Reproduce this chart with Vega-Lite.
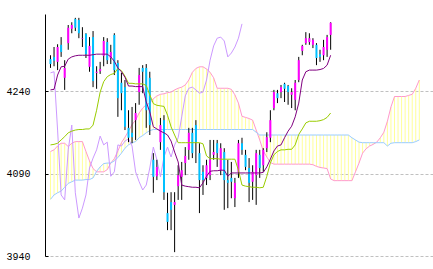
{
 "$schema": "https://vega.github.io/schema/vega-lite/v6.json",
 "width": 388, "height": 242,
 "autosize": {"type": "none"},
 "padding": {"left": 45, "top": 14, "right": 0, "bottom": 13},
 "background": "white",
 "config": {"view": {"stroke": null}},
 "data": {"values": [
  {"i":0,"o":4298,"h":4305,"l":4282,"c":4289,"tk":4242,"kj":4142,"ck":4273,"sa":4130,"sb":4043},
  {"i":1,"o":4302,"h":4320,"l":4285,"c":4295,"tk":4243,"kj":4143,"ck":4275,"sa":4133,"sb":4051},
  {"i":2,"o":4293,"h":4325,"l":4278,"c":4320,"tk":4269,"kj":4145,"ck":4169,"sa":4140,"sb":4055},
  {"i":3,"o":4324,"h":4338,"l":4302,"c":4311,"tk":4284,"kj":4151,"ck":4051,"sa":4145,"sb":4058},
  {"i":4,"o":4264,"h":4296,"l":4242,"c":4282,"tk":4285,"kj":4157,"ck":4042,"sa":4145,"sb":4065},
  {"i":5,"o":4327,"h":4360,"l":4315,"c":4355,"tk":4298,"kj":4164,"ck":4133,"sa":4139,"sb":4072},
  {"i":6,"o":4353,"h":4365,"l":4345,"c":4360,"tk":4302,"kj":4167,"ck":4178,"sa":4145,"sb":4075},
  {"i":7,"o":4371,"h":4373,"l":4349,"c":4355,"tk":4304,"kj":4169,"ck":4055,"sa":4148,"sb":4078},
  {"i":8,"o":4369,"h":4373,"l":4336,"c":4345,"tk":4305,"kj":4170,"ck":4009,"sa":4148,"sb":4078},
  {"i":9,"o":4335,"h":4356,"l":4320,"c":4336,"tk":4305,"kj":4170,"ck":4027,"sa":4148,"sb":4078},
  {"i":10,"o":4344,"h":4345,"l":4300,"c":4307,"tk":4305,"kj":4171,"ck":4051,"sa":4130,"sb":4079},
  {"i":11,"o":4284,"h":4338,"l":4275,"c":4322,"tk":4305,"kj":4171,"ck":4100,"sa":4113,"sb":4079},
  {"i":12,"o":4338,"h":4349,"l":4247,"c":4258,"tk":4306,"kj":4178,"ck":4118,"sa":4099,"sb":4082},
  {"i":13,"o":4273,"h":4285,"l":4244,"c":4275,"tk":4307,"kj":4205,"ck":4133,"sa":4093,"sb":4094},
  {"i":14,"o":4276,"h":4293,"l":4271,"c":4280,"tk":4307,"kj":4238,"ck":4158,"sa":4093,"sb":4102},
  {"i":15,"o":4304,"h":4338,"l":4285,"c":4331,"tk":4307,"kj":4257,"ck":4142,"sa":4093,"sb":4108},
  {"i":16,"o":4329,"h":4336,"l":4289,"c":4296,"tk":4307,"kj":4266,"ck":4147,"sa":4097,"sb":4109},
  {"i":17,"o":4300,"h":4324,"l":4289,"c":4311,"tk":4302,"kj":4270,"ck":4085,"sa":4109,"sb":4109},
  {"i":18,"o":4342,"h":4345,"l":4269,"c":4278,"tk":4294,"kj":4272,"ck":4093,"sa":4117,"sb":4113},
  {"i":19,"o":4291,"h":4296,"l":4193,"c":4227,"tk":4282,"kj":4281,"ck":4142,"sa":4131,"sb":4119},
  {"i":20,"o":4255,"h":4273,"l":4205,"c":4236,"tk":4275,"kj":4277,"ck":4140,"sa":4146,"sb":4127},
  {"i":21,"o":4247,"h":4260,"l":4169,"c":4175,"tk":4265,"kj":4267,"ck":4149,"sa":4156,"sb":4136},
  {"i":22,"o":4173,"h":4205,"l":4147,"c":4155,"tk":4249,"kj":4254,"ck":4153,"sa":4167,"sb":4142},
  {"i":23,"o":4164,"h":4211,"l":4145,"c":4156,"tk":4249,"kj":4254,"ck":4140,"sa":4179,"sb":4146},
  {"i":24,"o":4187,"h":4218,"l":4151,"c":4200,"tk":4248,"kj":4253,"ck":4093,"sa":4187,"sb":4148},
  {"i":25,"o":4238,"h":4282,"l":4215,"c":4269,"tk":4248,"kj":4253,"ck":4075,"sa":4200,"sb":4155},
  {"i":26,"o":4282,"h":4287,"l":4236,"c":4275,"tk":4248,"kj":4253,"ck":4060,"sa":4209,"sb":4159},
  {"i":27,"o":4282,"h":4289,"l":4173,"c":4205,"tk":4220,"kj":4250,"ck":4069,"sa":4215,"sb":4164},
  {"i":28,"o":4264,"h":4275,"l":4160,"c":4178,"tk":4202,"kj":4233,"ck":4100,"sa":4218,"sb":4168},
  {"i":29,"o":4115,"h":4127,"l":4055,"c":4084,"tk":4175,"kj":4217,"ck":4138,"sa":4226,"sb":4170},
  {"i":30,"o":4085,"h":4115,"l":4078,"c":4102,"tk":4171,"kj":4214,"ck":4115,"sa":4231,"sb":4170},
  {"i":31,"o":4147,"h":4191,"l":4133,"c":4178,"tk":4167,"kj":4213,"ck":4084,"sa":4234,"sb":4170},
  {"i":32,"o":4187,"h":4196,"l":4042,"c":4056,"tk":4164,"kj":4212,"ck":4120,"sa":4235,"sb":4170},
  {"i":33,"o":4018,"h":4055,"l":3987,"c":4002,"tk":4160,"kj":4196,"ck":4138,"sa":4237,"sb":4170},
  {"i":34,"o":4038,"h":4056,"l":3987,"c":4024,"tk":4149,"kj":4175,"ck":4120,"sa":4238,"sb":4170},
  {"i":35,"o":4033,"h":4056,"l":3947,"c":4038,"tk":4129,"kj":4160,"ck":4142,"sa":4242,"sb":4170},
  {"i":36,"o":4067,"h":4105,"l":4042,"c":4087,"tk":4111,"kj":4146,"ck":4155,"sa":4245,"sb":4170},
  {"i":37,"o":4084,"h":4111,"l":4042,"c":4096,"tk":4069,"kj":4146,"ck":4193,"sa":4247,"sb":4170},
  {"i":38,"o":4109,"h":4138,"l":4087,"c":4122,"tk":4067,"kj":4146,"ck":4231,"sa":4251,"sb":4170},
  {"i":39,"o":4133,"h":4173,"l":4115,"c":4164,"tk":4066,"kj":4146,"ck":4245,"sa":4260,"sb":4170},
  {"i":40,"o":4164,"h":4173,"l":4118,"c":4127,"tk":4065,"kj":4146,"ck":4247,"sa":4274,"sb":4170},
  {"i":41,"o":4178,"h":4187,"l":4109,"c":4147,"tk":4065,"kj":4146,"ck":4242,"sa":4281,"sb":4170},
  {"i":42,"o":4127,"h":4145,"l":4018,"c":4078,"tk":4064,"kj":4146,"ck":4236,"sa":4284,"sb":4170},
  {"i":43,"o":4093,"h":4105,"l":4051,"c":4078,"tk":4073,"kj":4144,"ck":4238,"sa":4284,"sb":4170},
  {"i":44,"o":4082,"h":4115,"l":4069,"c":4105,"tk":4085,"kj":4122,"ck":4260,"sa":4280,"sb":4170},
  {"i":45,"o":4087,"h":4151,"l":4078,"c":4115,"tk":4094,"kj":4117,"ck":4296,"sa":4274,"sb":4170},
  {"i":46,"o":4124,"h":4151,"l":4115,"c":4129,"tk":4095,"kj":4117,"ck":4322,"sa":4264,"sb":4170},
  {"i":47,"o":4145,"h":4151,"l":4102,"c":4127,"tk":4095,"kj":4117,"ck":4336,"sa":4245,"sb":4170},
  {"i":48,"o":4096,"h":4145,"l":4087,"c":4136,"tk":4096,"kj":4116,"ck":4338,"sa":4245,"sb":4170},
  {"i":49,"o":4129,"h":4136,"l":4024,"c":4078,"tk":4096,"kj":4116,"ck":4331,"sa":4245,"sb":4170},
  {"i":50,"o":4078,"h":4115,"l":4027,"c":4073,"tk":4085,"kj":4116,"ck":4302,"sa":4245,"sb":4170},
  {"i":51,"o":4082,"h":4111,"l":4045,"c":4075,"tk":4091,"kj":4116,"ck":4309,"sa":4243,"sb":4170},
  {"i":52,"o":4045,"h":4082,"l":4029,"c":4073,"tk":4091,"kj":4116,"ck":4320,"sa":4233,"sb":4170},
  {"i":53,"o":4093,"h":4151,"l":4082,"c":4145,"tk":4091,"kj":4096,"ck":4336,"sa":4218,"sb":4170},
  {"i":54,"o":4145,"h":4155,"l":4124,"c":4133,"tk":4091,"kj":4069,"ck":4362,"sa":4194,"sb":4170},
  {"i":55,"o":4124,"h":4133,"l":4096,"c":4102,"tk":4091,"kj":4067,"sa":4192,"sb":4170},
  {"i":56,"o":4100,"h":4118,"l":4038,"c":4073,"tk":4091,"kj":4066,"sa":4190,"sb":4170},
  {"i":57,"o":4075,"h":4105,"l":4042,"c":4093,"tk":4091,"kj":4065,"sa":4187,"sb":4170},
  {"i":58,"o":4087,"h":4133,"l":4033,"c":4127,"tk":4091,"kj":4065,"sa":4169,"sb":4165},
  {"i":59,"o":4124,"h":4133,"l":4082,"c":4100,"tk":4091,"kj":4064,"sa":4151,"sb":4160},
  {"i":60,"o":4105,"h":4136,"l":4093,"c":4133,"tk":4092,"kj":4065,"sa":4131,"sb":4160},
  {"i":61,"o":4136,"h":4165,"l":4129,"c":4156,"tk":4102,"kj":4085,"sa":4120,"sb":4160},
  {"i":62,"o":4155,"h":4205,"l":4147,"c":4187,"tk":4116,"kj":4109,"sa":4110,"sb":4160},
  {"i":63,"o":4209,"h":4242,"l":4205,"c":4238,"tk":4131,"kj":4124,"sa":4107,"sb":4160},
  {"i":64,"o":4236,"h":4242,"l":4218,"c":4227,"tk":4140,"kj":4130,"sa":4107,"sb":4160},
  {"i":65,"o":4238,"h":4251,"l":4227,"c":4247,"tk":4142,"kj":4133,"sa":4107,"sb":4160},
  {"i":66,"o":4253,"h":4255,"l":4220,"c":4244,"tk":4155,"kj":4133,"sa":4107,"sb":4160},
  {"i":67,"o":4249,"h":4251,"l":4215,"c":4238,"tk":4167,"kj":4134,"sa":4107,"sb":4160},
  {"i":68,"o":4233,"h":4245,"l":4209,"c":4238,"tk":4176,"kj":4134,"sa":4107,"sb":4160},
  {"i":69,"o":4224,"h":4260,"l":4205,"c":4255,"tk":4193,"kj":4142,"sa":4107,"sb":4160},
  {"i":70,"o":4260,"h":4302,"l":4256,"c":4296,"tk":4218,"kj":4161,"sa":4107,"sb":4160},
  {"i":71,"o":4313,"h":4324,"l":4305,"c":4322,"tk":4260,"kj":4171,"sa":4107,"sb":4160},
  {"i":72,"o":4327,"h":4347,"l":4324,"c":4336,"tk":4275,"kj":4182,"sa":4107,"sb":4160},
  {"i":73,"o":4329,"h":4345,"l":4324,"c":4336,"tk":4278,"kj":4185,"sa":4107,"sb":4160},
  {"i":74,"o":4324,"h":4336,"l":4318,"c":4333,"tk":4278,"kj":4185,"sa":4106,"sb":4160},
  {"i":75,"o":4324,"h":4327,"l":4287,"c":4300,"tk":4278,"kj":4185,"sa":4103,"sb":4160},
  {"i":76,"o":4307,"h":4315,"l":4293,"c":4302,"tk":4279,"kj":4186,"sa":4101,"sb":4160},
  {"i":77,"o":4305,"h":4333,"l":4296,"c":4320,"tk":4281,"kj":4188,"sa":4100,"sb":4160},
  {"i":78,"o":4315,"h":4342,"l":4302,"c":4338,"tk":4287,"kj":4192,"sa":4099,"sb":4160},
  {"i":79,"o":4342,"h":4365,"l":4315,"c":4364,"tk":4305,"kj":4200,"sa":4080,"sb":4160},
  {"i":80,"sa":4077,"sb":4160},
  {"i":81,"sa":4077,"sb":4160},
  {"i":82,"sa":4077,"sb":4160},
  {"i":83,"sa":4077,"sb":4160},
  {"i":84,"sa":4077,"sb":4160},
  {"i":85,"sa":4077,"sb":4155},
  {"i":86,"sa":4093,"sb":4151},
  {"i":87,"sa":4109,"sb":4147},
  {"i":88,"sa":4127,"sb":4146},
  {"i":89,"sa":4135,"sb":4146},
  {"i":90,"sa":4140,"sb":4146},
  {"i":91,"sa":4143,"sb":4146},
  {"i":92,"sa":4147,"sb":4146},
  {"i":93,"sa":4155,"sb":4146},
  {"i":94,"sa":4165,"sb":4146},
  {"i":95,"sa":4185,"sb":4140},
  {"i":96,"sa":4211,"sb":4145},
  {"i":97,"sa":4230,"sb":4146},
  {"i":98,"sa":4230,"sb":4146},
  {"i":99,"sa":4230,"sb":4146},
  {"i":100,"sa":4230,"sb":4146},
  {"i":101,"sa":4232,"sb":4146},
  {"i":102,"sa":4234,"sb":4146},
  {"i":103,"sa":4245,"sb":4148},
  {"i":104,"sa":4260,"sb":4151}
 ]},
 "encoding": {
  "x": {"field": "i", "type": "quantitative", "scale": {"domain": [-0.14, 106.45], "nice": false, "zero": false}, "axis": null}
 },
 "layer": [
  {"mark": {"type": "rule", "color": "#FFFF99", "strokeWidth": 1},
   "encoding": {
    "y": {"field": "sa", "type": "quantitative", "title": null, "scale": {"domain": [3940, 4380], "nice": false, "zero": false},
          "axis": {"values": [3940, 4090, 4240], "format": "d", "title": null, "grid": true, "gridColor": "#C0C0C0", "gridDash": [3, 2], "gridWidth": 1,
                   "domainColor": "#000000", "domainWidth": 1, "tickColor": "#000000", "tickSize": -3, "labelPadding": 18,
                   "labelFont": "Liberation Mono", "labelFontSize": 10, "labelColor": "#000000"}},
    "y2": {"field": "sb"}}},
  {"mark": {"type": "line", "color": "#FF99CC", "strokeWidth": 1},
   "encoding": {"y": {"field": "sa", "type": "quantitative", "title": null}}},
  {"mark": {"type": "line", "color": "#99CCFF", "strokeWidth": 1},
   "encoding": {"y": {"field": "sb", "type": "quantitative", "title": null}}},
  {"mark": {"type": "line", "color": "#CC99FF", "strokeWidth": 1},
   "encoding": {"y": {"field": "ck", "type": "quantitative", "title": null}}},
  {"mark": {"type": "rule", "color": "#000000", "strokeWidth": 1},
   "encoding": {"y": {"field": "l", "type": "quantitative", "title": null}, "y2": {"field": "h"}}},
  {"mark": {"type": "bar", "width": 2},
   "encoding": {"y": {"field": "o", "type": "quantitative", "title": null}, "y2": {"field": "c"},
    "color": {"condition": {"test": "datum.c > datum.o", "value": "#FF00FF"}, "value": "#00C0FF"}}},
  {"mark": {"type": "line", "color": "#99CC00", "strokeWidth": 1},
   "encoding": {"y": {"field": "kj", "type": "quantitative", "title": null}}},
  {"mark": {"type": "line", "color": "#800080", "strokeWidth": 1},
   "encoding": {"y": {"field": "tk", "type": "quantitative", "title": null}}}
 ]
}
